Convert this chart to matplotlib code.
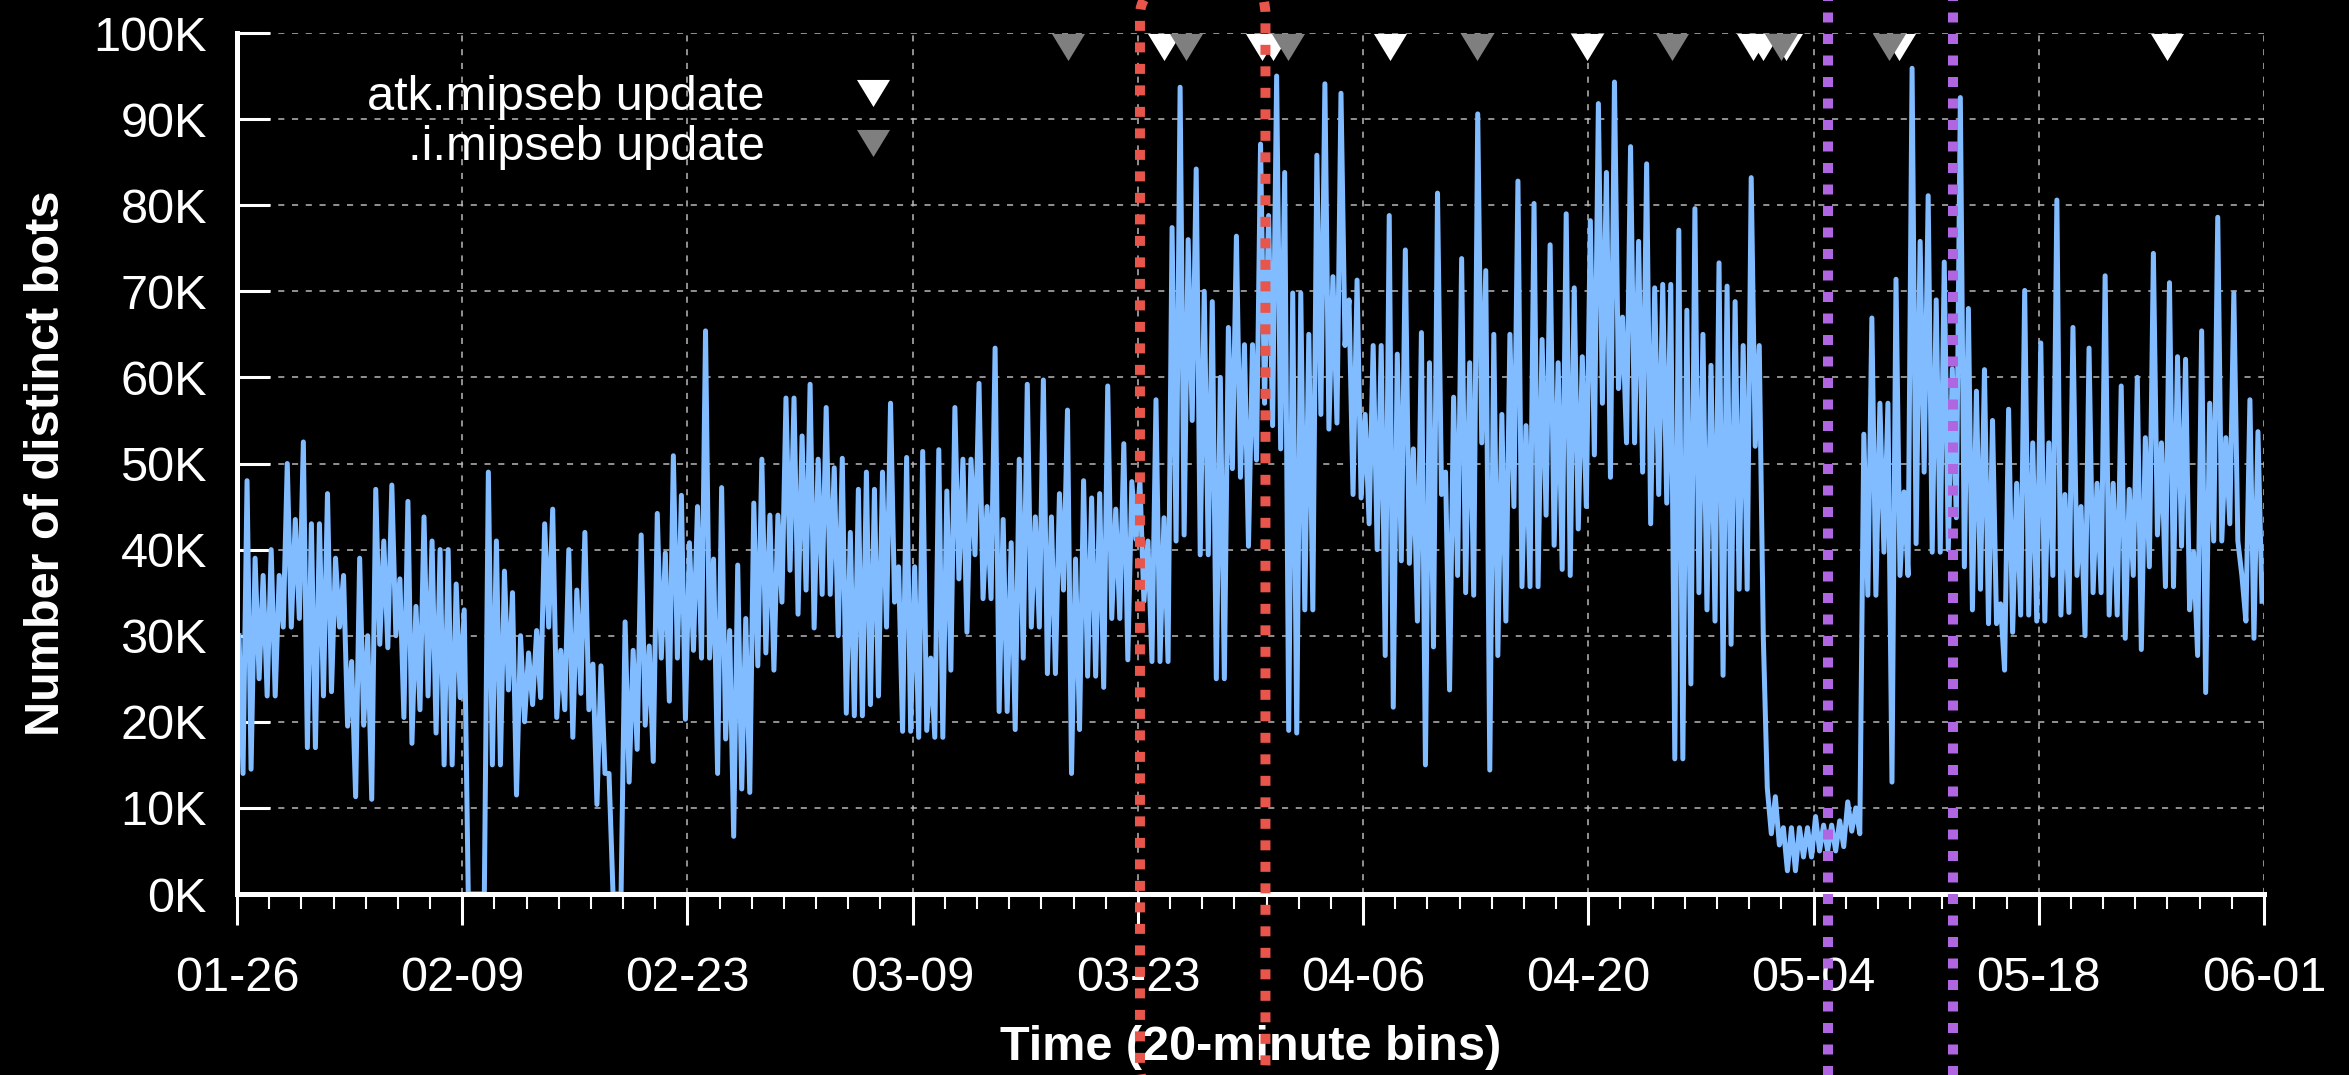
import numpy as np
import matplotlib
matplotlib.use('Agg')
import matplotlib.pyplot as plt
from matplotlib.lines import Line2D
from matplotlib.patches import FancyBboxPatch
from matplotlib.transforms import IdentityTransform

plt.rcParams['font.family'] = ['Liberation Sans', 'DejaVu Sans']

# x axis: days since 01-26
date_labels = ['01-26', '02-09', '02-23', '03-09', '03-23', '04-06', '04-20', '05-04', '05-18', '06-01']

# half-day envelope (high / low) of the 20-minute bins, thousands of bots
bin_hi = [30, 48, 39, 37, 40, 37, 50, 43.5, 52.5, 43, 43, 46.5, 39, 37, 27, 39, 30, 47, 41, 47.5,
          36.6, 45.6, 33.4, 43.8, 41, 40, 40, 36, 33, 0, 0, 49, 41, 37.5, 35, 30, 28, 30.6, 43, 44.7,
          28.3, 40, 35.3, 42, 26.7, 26.5, 14, 0, 31.6, 28.3, 41.7, 28.8, 44.2, 39.6, 50.9, 46.3, 40.8, 45, 65.4, 38.9,
          47.2, 30.6, 38.2, 32, 45.4, 50.5, 44, 44, 57.6, 57.6, 53.2, 59.2, 50.5,
          56.5, 49.5, 50.6, 42, 47, 49, 47, 49, 57, 38, 50.7, 38, 51.4, 27.4, 51.6, 46.8, 56.5, 50.5, 50.5, 59.3,
          45, 63.4, 43.5, 40.8, 50.5, 59.2, 43.8, 59.7, 43.8, 46.5, 56.2, 38.9, 48, 46, 46.5, 59, 44.7, 52.3, 47.9,
          48, 41, 57.4, 43.7, 77.4, 93.7, 76, 84.2, 70, 68.8, 60, 65.8, 76.4, 63.8, 63.8, 87.1, 78.8, 95, 83.8, 69.8,
          69.8, 65, 85.8, 94.1, 71.7, 93, 69, 71.3, 55.7, 63.7, 63.7, 78.8, 62.7, 74.8, 51.7, 65.2, 61.7, 81.4, 49, 57.7,
          73.8, 61.7, 90.6, 72.4, 65, 55.7, 65, 82.8,
          54.4, 80.2, 64.4, 75.4, 61.7, 79, 70.4, 62.4, 78.2, 91.8, 83.8, 94.3, 67, 86.8, 75.8, 84.8, 70.4, 70.8, 70.8, 77.1,
          67.8, 79.6, 65, 61.4, 73.3, 70.6, 68.8, 63.7, 83.2, 63.7, 12.3, 11.3, 7.7, 7.7, 7.7, 7.7, 9, 8, 8, 8.5,
          10.7, 10, 53.4, 66.9, 57, 57, 71.4,
          46.7, 95.9, 75.8, 81.1, 69, 73.4, 61, 92.5, 68, 58.4, 60.9, 55, 33.7, 56.3, 47.7, 70.1, 52.4, 64, 52.4, 80.6,
          46.4, 65.8, 45, 63.4, 47.7, 71.8, 47.7, 59, 47, 60, 53, 74.4, 52.4, 71, 62.4, 62.1, 39.7, 65.4, 57, 78.6,
          53, 69.8, 37, 57.4, 53.7]
bin_lo = [14, 14.5, 25, 23, 23, 31, 31, 32, 17, 17, 23, 23.5, 31, 19.5, 11.3, 19.6, 11, 29, 28.6, 30,
          20.5, 17.5, 21.4, 23, 18.7, 15, 15, 22.8, 0, 0, 0, 15, 15, 23.7, 11.5, 20, 22, 22.8, 31, 20.5,
          21.4, 18.2, 23.3, 21.4, 10.4, 14, 0, 0, 13, 16.8, 19.6, 15.4, 27.4, 22.4, 27.4, 20.3, 28.3, 27.4, 27.4, 14,
          18, 6.7, 12.2, 11.8, 26.5, 28, 26, 33.9, 37.6, 32.5, 35.3, 30.9, 34.8,
          34.8, 30, 21, 20.7, 20.7, 22, 23, 31, 33.9, 18.9, 18.9, 18.2, 19, 18.2, 18.2, 26, 36.6, 30.4, 39.4, 34.3,
          34.3, 21.2, 21.2, 19.1, 27.4, 31, 31, 25.6, 25.6, 35.3, 14, 19.1, 25.3, 25.3, 24, 32, 32, 27.2, 41.2,
          34, 27, 27, 27, 41, 41.7, 55, 39.4, 39.4, 25, 25, 49.4, 48.4, 40.4, 50.4, 57, 54.4, 51.7, 19, 18.7,
          33, 33, 55.7, 54, 54.7, 63.7, 46.4, 46, 43, 40, 27.7, 21.7, 38.7, 38.4, 31.7, 15, 28.7, 46.4, 23.7, 37,
          35, 34.7, 52.4, 14.4, 27.7, 31.7, 45, 35.7,
          35.7, 35.7, 44, 40.5, 37.7, 37, 42.4, 45, 51, 57, 48.4, 58.7, 52.4, 52.4, 49, 43, 46.4, 45.4, 15.7, 15.7,
          24.4, 35, 33, 31.7, 25.4, 29, 35.4, 35.4, 52, 30, 7, 5.7, 2.7, 2.7, 4.3, 4.3, 5, 5, 5, 5.5,
          7.3, 7, 34.7, 34.7, 39.7, 13, 37,
          37, 40.7, 49, 39.7, 39.7, 40, 43.7, 38, 33, 35.4, 31.4, 31.4, 26, 30.4, 32.4, 32.4, 31.7, 31.7, 37, 32.4,
          32.7, 37, 30, 35, 35, 32.4, 32.4, 29.7, 37, 28.4, 38, 41.7, 35.7, 35.7, 40.4, 33, 27.7, 23.4, 41, 41,
          43, 41, 31.7, 29.7, 34]

# update events (days since 01-26)
atk_updates = [57.65, 63.7, 64.4, 71.67, 83.9, 94.26, 94.88, 96.3, 103.3, 120.0]
i_updates = [51.66, 59.0, 65.35, 77.06, 89.2, 96.0, 102.7]

# highlighted periods
red_marks = [56.13, 63.93]
purple_marks = [98.9, 106.67]

t = np.arange(len(bin_hi)) / 2.0
x = np.column_stack([t + 0.125, t + 0.375]).ravel()
y = np.column_stack([bin_hi, bin_lo]).ravel()

fig = plt.figure(figsize=(23.49, 10.75), dpi=100, facecolor='black')
ax = fig.add_axes([0.10089, 0.16837, 0.86292, 0.80093], facecolor='black')

ax.plot(x, y, color='#80bcff', lw=3.6, zorder=2)

tri = [(-1, 0.82), (1, 0.82), (0, -0.82), (-1, 0.82)]
ax.plot(atk_updates, [98.4] * len(atk_updates), ls='none', marker=tri, ms=23.8,
        mfc='white', mec='none', clip_on=False, zorder=3)
ax.plot(i_updates, [98.4] * len(i_updates), ls='none', marker=tri, ms=23.8,
        mfc='#7f7f7f', mec='none', clip_on=False, zorder=3)

handles = [Line2D([], [], ls='none', marker=tri, ms=23.8, mfc='white', mec='none'),
           Line2D([], [], ls='none', marker=tri, ms=23.8, mfc='#7f7f7f', mec='none')]
leg = ax.legend(handles, ['atk.mipseb update', '.i.mipseb update'], loc='upper right',
                bbox_to_anchor=(0.3259, 0.951), frameon=False, markerfirst=False, fontsize=35,
                handlelength=1.0, handletextpad=1.73, labelspacing=0.1, borderpad=0, borderaxespad=0)
for txt in leg.get_texts():
    txt.set_color('white')

ax.set_xlim(0, 126)
ax.set_ylim(0, 100)
ax.set_xticks(np.arange(0, 127, 14))
ax.set_xticklabels(date_labels)
ax.set_xticks(np.arange(0, 127, 2), minor=True)
ax.set_yticks(np.arange(0, 101, 10))
ax.set_yticklabels([f'{v}K' for v in range(0, 101, 10)])

ax.tick_params(axis='y', direction='in', length=23.8, width=2.2, colors='white', labelsize=35, pad=21.6)
ax.tick_params(axis='x', which='major', direction='out', length=22.3, width=2.2, colors='white',
               labelsize=35, pad=22)
ax.tick_params(axis='x', which='minor', direction='out', length=10.8, width=1.5, colors='white')

for s in ['top', 'right']:
    ax.spines[s].set_visible(False)
for s in ['left', 'bottom']:
    ax.spines[s].set_color('white')
    ax.spines[s].set_linewidth(3.6)

ax.grid(True, which='major', color='#b8b8b8', lw=1.1, ls=(0, (4, 5)))

ax.set_ylabel('Number of distinct bots', fontsize=35, fontweight='bold', color='white')
ax.yaxis.set_label_coords(-0.083, 0.5)
ax.set_xlabel('Time (20-minute bins)', fontsize=35, fontweight='bold', color='white')
ax.xaxis.set_label_coords(0.5, -0.152)

# red period: tall rounded dotted box running past the figure edges
x0 = ax.transData.transform((red_marks[0], 0))[0]
x1 = ax.transData.transform((red_marks[1], 0))[0]
box = FancyBboxPatch((x0, -30), x1 - x0, 1130, boxstyle='round,pad=0,rounding_size=40',
                     transform=IdentityTransform(), fill=False, ec='#e8554b', lw=7.2,
                     ls=(0, (1, 1.15)), zorder=6)
fig.add_artist(box)

for d in purple_marks:
    ax.axvline(d, ymin=-0.23, ymax=1.05, color='#b066e0', lw=7.2, ls=(0, (1, 1.15)),
               clip_on=False, zorder=6)

fig.savefig('out.png', dpi=100, facecolor='black')
